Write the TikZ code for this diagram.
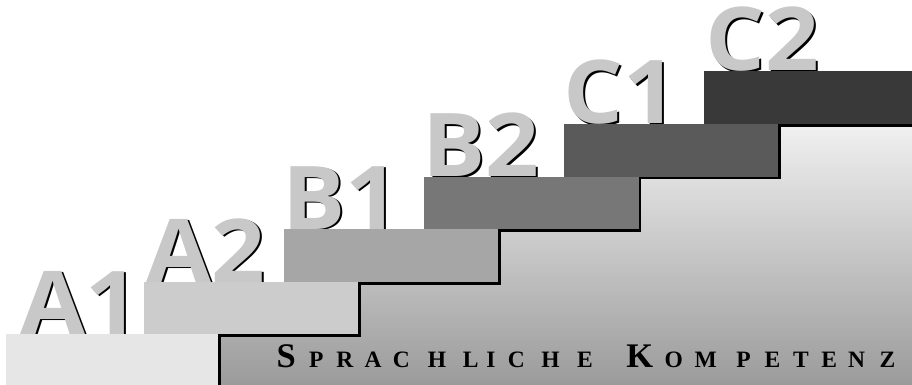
\documentclass[tikz,border=0pt]{standalone}
\usepackage{fontspec}
\setmainfont{Liberation Serif}
\newfontfamily\levelfont{Open Sans}[BoldFont={* Bold}]
\definecolor{stepAone}{HTML}{E6E6E6}
\definecolor{stepAtwo}{HTML}{CCCCCC}
\definecolor{stepBone}{HTML}{A6A6A6}
\definecolor{stepBtwo}{HTML}{777777}
\definecolor{stepCone}{HTML}{5A5A5A}
\definecolor{stepCtwo}{HTML}{393939}
\definecolor{lettergray}{HTML}{C8C8C8}
\definecolor{shadetop}{HTML}{F0F0F0}
\definecolor{shadebot}{HTML}{999999}
\newcommand\lbx[2]{\makebox[#1pt][l]{#2}}
\newcommand\capbigsize{\fontsize{34.5}{34.5}\selectfont}
\newcommand\capsmallsize{\fontsize{23.5}{23.5}\selectfont}
\tikzset{
  lvl/.style={anchor=base west, inner sep=0pt, text=lettergray, xscale=1.07, transform shape,
    font=\levelfont\bfseries\fontsize{88}{88}\selectfont},
  lvlshadow/.style={lvl, text=black},
}
\begin{document}
\begin{tikzpicture}[x=1pt,y=-1pt]
\useasboundingbox (0,0) rectangle (912,385);
% side of the stairs
\path[draw=black, line width=2.5pt, top color=shadetop, bottom color=shadebot]
  (219.25,390) -- (219.25,335.25) -- (359.25,335.25) -- (359.25,283.25)
  -- (499.25,283.25) -- (499.25,230.6) -- (639.75,230.6) -- (639.75,177.75)
  -- (779.25,177.75) -- (779.25,125.25) -- (916,125.25) -- (916,390) -- cycle;
% level letters
\node[lvlshadow] at (22.2,335.5) {A1};
\node[lvl] (a1) at (20,334) {A1};
\node[lvlshadow] at (148.7,283.5) {A2};
\node[lvl] (a2) at (146.5,282) {A2};
\node[lvlshadow] at (284.2,230.9) {B1};
\node[lvl] (b1) at (282,229.4) {B1};
\node[lvlshadow] at (424.2,178) {B2};
\node[lvl] (b2) at (422,176.5) {B2};
\node[lvlshadow] at (565.2,125.5) {C1};
\node[lvl] (c1) at (563,124) {C1};
\node[lvlshadow] at (707.2,72.5) {C2};
\node[lvl] (c2) at (705,71) {C2};
% steps
\fill[stepAone] (6,334) rectangle (218,386);
\fill[stepAtwo] (144,282) rectangle (358,334);
\fill[stepBone] (284,229.4) rectangle (498,282);
\fill[stepBtwo] (424,176.5) rectangle (638.5,229.4);
\fill[stepCone] (564,124) rectangle (778,176.5);
\fill[stepCtwo] (704,71) rectangle (913,124);
% caption
\node[anchor=base west, inner sep=0pt, text=black, font=\bfseries] (caption) at (276.5,367.5)
  {\capbigsize\lbx{32.5}{S}\capsmallsize\lbx{27.2}{P}\lbx{28.3}{R}\lbx{28.3}{A}\lbx{35}{C}\lbx{35}{H}\lbx{23.4}{L}\lbx{21.6}{I}\lbx{33.4}{C}\lbx{35.8}{H}\lbx{49.2}{E}%
   \capbigsize\lbx{38.3}{K}\capsmallsize\lbx{30}{O}\lbx{41.7}{M}\lbx{28.3}{P}\lbx{28.3}{E}\lbx{28.4}{T}\lbx{26.6}{E}\lbx{31.7}{N}Z};
\end{tikzpicture}
\end{document}
